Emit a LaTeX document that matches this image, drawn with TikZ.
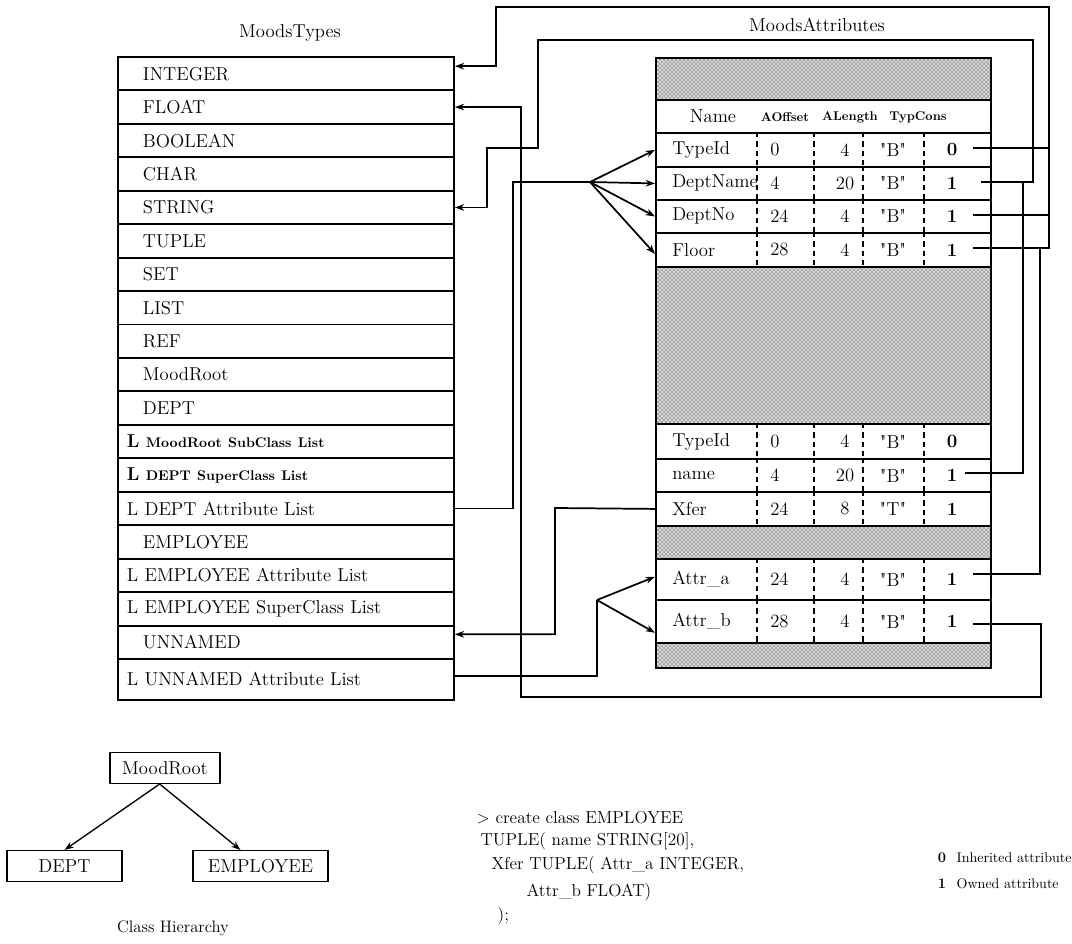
\documentclass[tikz,border=0pt]{standalone}
\usetikzlibrary{patterns,arrows.meta}
\newcommand\smb{\fontsize{10.5}{12}\selectfont\bfseries}
\newcommand\hdb{\fontsize{9.5}{11}\selectfont\bfseries}
\newcommand\qq[1]{\textquotedbl #1\textquotedbl}
\begin{document}
\begin{tikzpicture}[x=0.75pt,y=-0.75pt,
  every node/.style={font=\fontsize{14}{16}\selectfont},
  trow/.style={draw, line width=1.4pt, anchor=north west, minimum height=25.09pt,
    text width=214.5pt, inner xsep=18.75pt, inner ysep=0pt, align=left},
  lrow/.style={trow, text width=238.5pt, inner xsep=6.75pt},
  hatchrow/.style={draw, line width=1.4pt, anchor=north west, preaction={fill=gray!30},
    pattern=crosshatch dots, minimum width=251.25pt, inner sep=0pt},
  arow/.style={draw, line width=1.4pt, anchor=north west, minimum width=251.25pt, inner sep=0pt},
  sepline/.style={line width=1pt, dash pattern=on 4pt off 3pt},
  conn/.style={line width=1.3pt},
  arr/.style={conn, -{Stealth[length=7pt,width=5pt]}},
  hbox/.style={draw, line width=1pt, minimum height=23pt, inner sep=0pt},
  cell/.style={inner sep=3pt},
  codeline/.style={anchor=west, font=\fontsize{13}{15}\selectfont},
  legtext/.style={anchor=west, font=\fontsize{10.5}{12}\selectfont},
  ]
\useasboundingbox (0,0) rectangle (1072,944);

% ---------- MoodsTypes ----------
\node (tt) at (290,33) {MoodsTypes};
\node[trow] (t0)  at (117,56.00)  {INTEGER};
\node[trow] (t1)  at (117,89.45)  {FLOAT};
\node[trow] (t2)  at (117,122.90) {BOOLEAN};
\node[trow] (t3)  at (117,156.35) {CHAR};
\node[trow] (t4)  at (117,189.80) {STRING};
\node[trow] (t5)  at (117,223.25) {TUPLE};
\node[trow] (t6)  at (117,256.70) {SET};
\node[trow] (t7)  at (117,290.15) {LIST};
\node[trow] (t8)  at (117,323.60) {REF};
\node[trow] (t9)  at (117,357.05) {MoodRoot};
\node[trow] (t10) at (117,390.50) {DEPT};
\node[lrow] (t11) at (117,423.95) {\textbf{L} {\smb MoodRoot SubClass List}};
\node[lrow] (t12) at (117,457.40) {\textbf{L} {\smb DEPT SuperClass List}};
\node[lrow] (t13) at (117,490.85) {L DEPT Attribute List};
\node[trow] (t14) at (117,524.30) {EMPLOYEE};
\node[lrow] (t15) at (117,557.75) {L EMPLOYEE Attribute List};
\node[lrow] (t16) at (117,591.20) {L EMPLOYEE SuperClass List};
\node[trow] (t17) at (117,624.65) {UNNAMED};
\node[lrow, minimum height=30.75pt] (t18) at (117,658.10) {L UNNAMED Attribute List};

% ---------- MoodsAttributes ----------
\node (ta) at (817,25) {MoodsAttributes};
\node[hatchrow, minimum height=31.5pt]  (h1) at (655,57)  {};
\node[arow, minimum height=24.75pt]     (hd) at (655,99)  {};
\node[arow, minimum height=25.5pt]      (r1) at (655,132) {};
\node[arow, minimum height=24.75pt]     (r2) at (655,166) {};
\node[arow, minimum height=24.75pt]     (r3) at (655,199) {};
\node[arow, minimum height=25.5pt]      (r4) at (655,232) {};
\node[hatchrow, minimum height=117.75pt] (h2) at (655,266) {};
\node[arow, minimum height=26.25pt]     (s1) at (655,423) {};
\node[arow, minimum height=24.75pt]     (s2) at (655,458) {};
\node[arow, minimum height=25.5pt]      (s3) at (655,491) {};
\node[hatchrow, minimum height=24.75pt] (h3) at (655,525) {};
\node[arow, minimum height=30.75pt]     (a1) at (655,558) {};
\node[arow, minimum height=32.25pt]     (a2) at (655,599) {};
\node[hatchrow, minimum height=18.75pt] (h4) at (655,642) {};

% header
\node (hn) at (713,116) {Name};
\node[font=\hdb] (hao) at (785,117) {AOffset};
\node[font=\hdb] (hal) at (850,117) {ALength};
\node[font=\hdb] (htc) at (918,117) {TypCons};

% column positions
\coordinate (k1) at (757,0);
\coordinate (k2) at (814,0);
\coordinate (k3) at (863,0);
\coordinate (k4) at (924,0);
\coordinate (xn) at (668,0);
\coordinate (xo) at (766,0);
\coordinate (xl) at (845,0);
\coordinate (xt) at (893,0);
\coordinate (xc) at (952,0);

\newcommand\datarow[6]{%
  \foreach \k in {k1,k2,k3,k4}{\draw[sepline] (#1.north -| \k) -- (#1.south -| \k);}
  \node[cell, anchor=west] (#1n) at (#1.center -| xn) {#2};
  \node[cell, anchor=west] (#1o) at (#1.center -| xo) {#3};
  \node[cell] (#1l) at (#1.center -| xl) {#4};
  \node[cell] (#1t) at (#1.center -| xt) {#5};
  \node[cell, font=\fontsize{14}{16}\selectfont\bfseries] (#1c) at (#1.center -| xc) {#6};
}
\datarow{r1}{TypeId}{0}{4}{\qq{B}}{0}
\datarow{r2}{DeptName}{4}{20}{\qq{B}}{1}
\datarow{r3}{DeptNo}{24}{4}{\qq{B}}{1}
\datarow{r4}{Floor}{28}{4}{\qq{B}}{1}
\datarow{s1}{TypeId}{0}{4}{\qq{B}}{0}
\datarow{s2}{name}{4}{20}{\qq{B}}{1}
\datarow{s3}{Xfer}{24}{8}{\qq{T}}{1}
\datarow{a1}{Attr\_a}{24}{4}{\qq{B}}{1}
\datarow{a2}{Attr\_b}{28}{4}{\qq{B}}{1}

% ---------- connectors ----------
\coordinate (r1x) at (973,148);
\coordinate (r2x) at (981,182);
\coordinate (r3x) at (973,215);
\coordinate (r4x) at (973,248);
\coordinate (s2x) at (965,473);
\coordinate (a1x) at (973,574);
\coordinate (a2x) at (973,624);
\coordinate (fan1) at (590,182);
\coordinate (fan2) at (597,600);

% INTEGER
\draw[arr] (r4x) -- (1049,248) -- (1049,7) -- (496,7) |- ([yshift=5.6pt]t0.east);
\draw[conn] (r1x) -- (1049,148);
\draw[conn] (r3x) -- (1049,215);
\draw[conn] (a1x) -- (1040,574) -- (1040,248);
% STRING
\draw[arr] (r2x) -- (1033,182) -- (1033,40) -- (538,40) -- (538,148) -- (487,148) |- (t4.east);
\draw[conn] (s2x) -- (1023,473) -- (1023,182);
% FLOAT
\draw[arr] (a2x) -- (1041,624) -- (1041,697) -- (521,697) |- (t1.east);
% DEPT attribute list
\draw[conn] (t13.east) -| (513,182) -- (fan1);
\draw[arr] (fan1) -- (r1.west);
\draw[arr] (fan1) -- (r2.west);
\draw[arr] (fan1) -- (r3.west);
\draw[arr] (fan1) -- ([yshift=-3pt]r4.west);
% Xfer -> UNNAMED
\draw[arr] (s3.west) -- (555,508) |- ([yshift=6pt]t17.east);
% UNNAMED attribute list
\draw[conn] ([yshift=2.5pt]t18.east) -| (fan2);
\draw[arr] (fan2) -- ([yshift=2pt]a1.west);
\draw[arr] (fan2) -- ([yshift=-8.5pt]a2.west);

% ---------- class hierarchy ----------
\node[hbox, minimum width=82.5pt] (mr) at (165,768) {MoodRoot};
\node[hbox, minimum width=86.25pt] (dp) at (64.5,866) {DEPT};
\node[hbox, minimum width=101.25pt] (em) at (260.5,866) {EMPLOYEE};
\draw[arr, line width=1pt] ([xshift=-4pt]mr.south) -- (dp.north);
\draw[arr, line width=1pt] ([xshift=-4pt]mr.south) -- ([xshift=-15pt]em.north);
\node[font=\fontsize{12.5}{14}\selectfont] (ch) at (173,928) {Class Hierarchy};

% ---------- code ----------
\node[codeline] (c1) at (472,818) {> create class EMPLOYEE};
\node[codeline] (c2) at (476,841) {TUPLE( name STRING[20],};
\node[codeline] (c3) at (487,865) {Xfer TUPLE( Attr\_a INTEGER,};
\node[codeline] (c4) at (522,892) {Attr\_b FLOAT)};
\node[codeline] (c5) at (493,916) {);};

% ---------- legend ----------
\node[font=\fontsize{11}{13}\selectfont\bfseries] (l0) at (942,858) {0};
\node[legtext] (l0t) at (952,858) {Inherited attribute};
\node[font=\fontsize{11}{13}\selectfont\bfseries] (l1) at (942,884) {1};
\node[legtext] (l1t) at (952,884) {Owned attribute};
\end{tikzpicture}
\end{document}
